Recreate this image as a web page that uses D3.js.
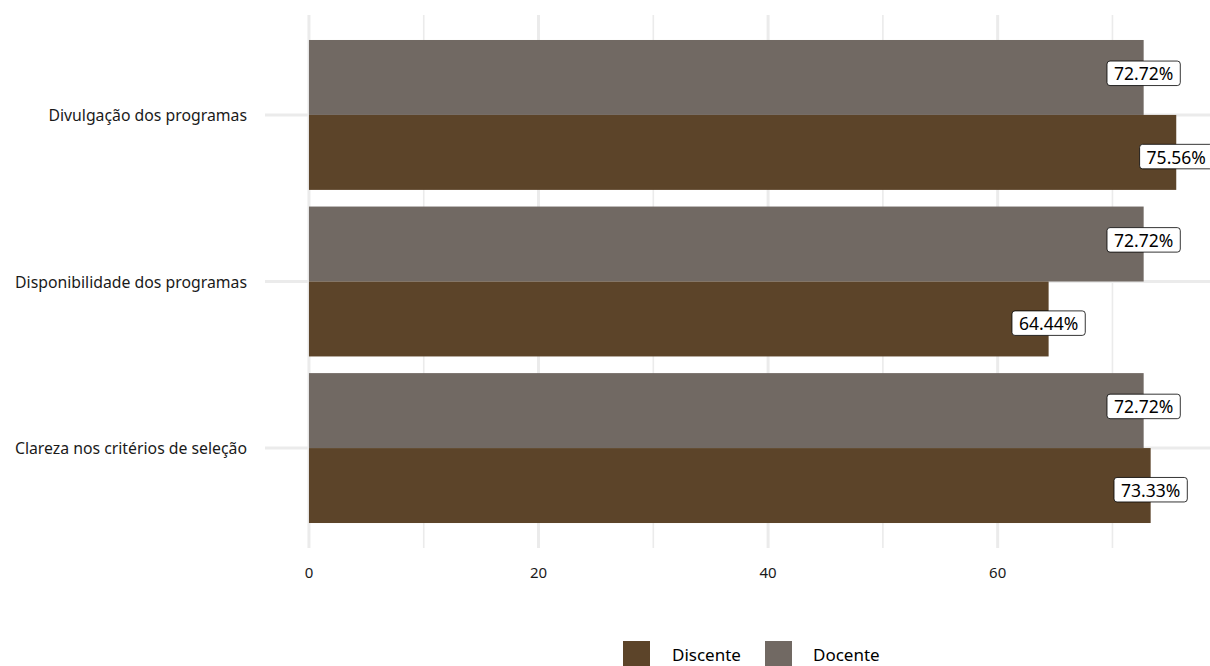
<!DOCTYPE html>
<html>
<head>
<meta charset="utf-8">
<script src="https://cdn.jsdelivr.net/npm/d3@7"></script>
<style>
  body { margin: 0; background: #fff; }
  svg { display: block; }
  text { font-family: "Noto Sans", "Open Sans", sans-serif; }
</style>
</head>
<body>
<svg id="chart" width="1210" height="666"></svg>
<script>
const categories = ["Divulgação dos programas", "Disponibilidade dos programas", "Clareza nos critérios de seleção"];
const groups = ["Docente", "Discente"]; // top, bottom within each category
const docenteValues = [72.72, 72.72, 72.72];
const discenteValues = [75.56, 64.44, 73.33];
const xTicks = [0, 20, 40, 60];
const xMinorTicks = [10, 30, 50, 70];
const legendItems = ["Discente", "Docente"];
const colors = { Discente: "#5C4429", Docente: "#716963" };

const data = [];
categories.forEach((c, i) => {
  data.push({ cat: c, group: "Docente", value: docenteValues[i] });
  data.push({ cat: c, group: "Discente", value: discenteValues[i] });
});

const svg = d3.select("#chart");
const panel = { left: 265, right: 1210, top: 15, bottom: 548 };

const x = d3.scaleLinear().domain([-3.83, 78.5]).range([panel.left, panel.right]);
const yc = d3.scaleLinear().domain([-0.6, categories.length - 1 + 0.6]).range([panel.top, panel.bottom]);
const unit = yc(1) - yc(0);

// minor grid
svg.append("g").selectAll("line").data(xMinorTicks).join("line")
  .attr("x1", d => x(d)).attr("x2", d => x(d))
  .attr("y1", panel.top).attr("y2", panel.bottom)
  .attr("stroke", "#EBEBEB").attr("stroke-width", 1.6);
// major grid
svg.append("g").selectAll("line").data(xTicks).join("line")
  .attr("x1", d => x(d)).attr("x2", d => x(d))
  .attr("y1", panel.top).attr("y2", panel.bottom)
  .attr("stroke", "#EBEBEB").attr("stroke-width", 3);
svg.append("g").selectAll("line").data(categories).join("line")
  .attr("x1", panel.left).attr("x2", panel.right)
  .attr("y1", (d, i) => yc(i)).attr("y2", (d, i) => yc(i))
  .attr("stroke", "#EBEBEB").attr("stroke-width", 3);

// bars: dodge width 0.9
const barW = 0.9 / 2;
const gIdx = g => groups.indexOf(g);
svg.append("g").selectAll("rect").data(data).join("rect")
  .attr("x", x(0))
  .attr("width", d => x(d.value) - x(0))
  .attr("y", d => yc(categories.indexOf(d.cat) - 0.45 + gIdx(d.group) * barW))
  .attr("height", barW * unit)
  .attr("fill", d => colors[d.group]);

// labels: dodge width 1
const labG = svg.append("g");
data.forEach(d => {
  const cy = yc(categories.indexOf(d.cat) + (gIdx(d.group) === 0 ? -0.25 : 0.25));
  const cx = x(d.value);
  const g = labG.append("g");
  const t = g.append("text").attr("x", cx).attr("y", cy)
    .attr("text-anchor", "middle").attr("dominant-baseline", "central")
    .attr("font-size", 17.5).attr("fill", "#000")
    .text(d.value.toFixed(2) + "%");
  const bb = t.node().getBBox();
  const w = bb.width + 14, h = 24.5;
  g.insert("rect", "text")
    .attr("x", cx - w / 2).attr("y", cy - h / 2)
    .attr("width", w).attr("height", h)
    .attr("rx", 3).attr("ry", 3)
    .attr("fill", "#fff").attr("stroke", "#000").attr("stroke-width", 0.8);
});

// y axis labels
svg.append("g").selectAll("text").data(categories).join("text")
  .attr("x", 247).attr("y", (d, i) => yc(i))
  .attr("text-anchor", "end").attr("dominant-baseline", "central")
  .attr("font-size", 15.8).attr("fill", "#1a1a1a")
  .text(d => d);

// x axis labels
svg.append("g").selectAll("text").data(xTicks).join("text")
  .attr("x", d => x(d)).attr("y", 572)
  .attr("text-anchor", "middle").attr("dominant-baseline", "central")
  .attr("font-size", 15).attr("fill", "#1a1a1a")
  .text(d => d);

// legend
const legendPos = [{ sx: 623, tx: 672 }, { sx: 765, tx: 813 }];
const lg = svg.append("g");
legendItems.forEach((item, i) => {
  lg.append("rect").attr("x", legendPos[i].sx).attr("y", 641)
    .attr("width", 27).attr("height", 27).attr("fill", colors[item]);
  lg.append("text").attr("x", legendPos[i].tx).attr("y", 654)
    .attr("dominant-baseline", "central")
    .attr("font-size", 17).attr("fill", "#000").text(item);
});
</script>
</body>
</html>
